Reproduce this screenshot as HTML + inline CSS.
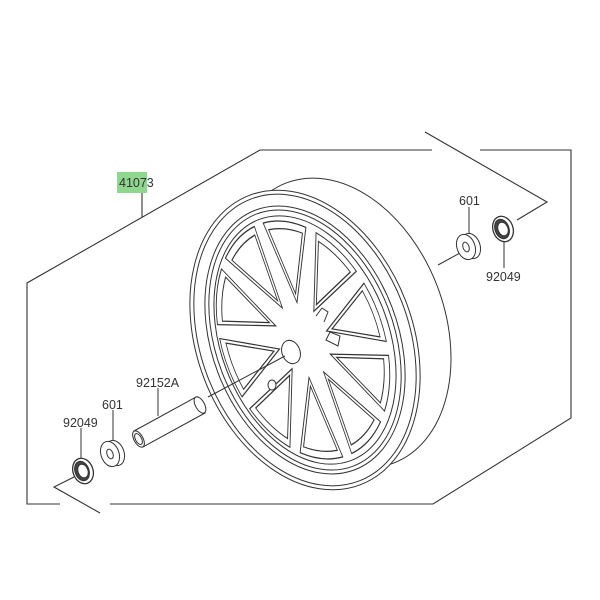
<!DOCTYPE html>
<html><head><meta charset="utf-8"><style>
html,body{margin:0;padding:0;background:#fff;}
svg{display:block;}
text{font-family:"Liberation Sans",sans-serif;font-size:12.5px;fill:#333;}
.p path{vector-effect:non-scaling-stroke;}
</style></head><body>
<svg width="600" height="600" viewBox="0 0 600 600" xmlns="http://www.w3.org/2000/svg">
<defs>
  <g id="pk">
    <path d="M0,-30 L-24,-92 A95,95 0 0 1 24,-92 Z"/>
    <path d="M0,-37 L-19,-87 A89,89 0 0 1 19,-87 Z"/>
  </g>
</defs>
<g fill="none" stroke="#333" stroke-width="1.1">
  <polyline points="432,150 260,150 27,283 27,504 60,504"/>
  <polyline points="480,150 571,150 571,418 433,504 110,504"/>
  <polyline points="425,132 547,202 517,220"/>
  <polyline points="74,477 54,487 100,513"/>
  <line x1="142" y1="193" x2="142" y2="217"/>
</g>
<rect x="117" y="172" width="30" height="21" fill="#8fd68f"/>
<text x="119" y="187">41073</text>

<g fill="#fff" stroke="#333" stroke-width="1">
  <ellipse cx="340" cy="323" rx="104" ry="150" transform="rotate(-21 340 323)"/>
  <ellipse cx="305" cy="340" rx="108" ry="155" transform="rotate(-21 305 340)"/>
  <ellipse cx="305" cy="340" rx="104" ry="151" transform="rotate(-21 305 340)"/>
  <ellipse cx="305" cy="340" rx="93" ry="139" transform="rotate(-21 305 340)"/>
  <ellipse cx="305" cy="340" rx="89" ry="135" transform="rotate(-21 305 340)"/>
  <ellipse cx="305" cy="340" rx="84" ry="129" transform="rotate(-21 305 340)"/>
</g>
<g class="p" transform="translate(303,340) rotate(-21) scale(0.84,1.3)" fill="#fff" stroke="#333" stroke-width="1">
  <use href="#pk" transform="rotate(18)"/>
  <use href="#pk" transform="rotate(54)"/>
  <use href="#pk" transform="rotate(90)"/>
  <use href="#pk" transform="rotate(126)"/>
  <use href="#pk" transform="rotate(162)"/>
  <use href="#pk" transform="rotate(198)"/>
  <use href="#pk" transform="rotate(234)"/>
  <use href="#pk" transform="rotate(270)"/>
  <use href="#pk" transform="rotate(306)"/>
  <use href="#pk" transform="rotate(342)"/>
</g>
<g fill="#fff" stroke="#333" stroke-width="1">
  <ellipse cx="291" cy="352" rx="9" ry="12" transform="rotate(-21 291 352)"/>
  <ellipse cx="272" cy="385" rx="4" ry="5"/>
  <path d="M316,316 l6,-8 l6,4 l-4,10" fill="none"/>
  <path d="M326,340 l4,-8 l10,4 l-2,10 z" fill="none"/>
</g>

<g fill="none" stroke="#333" stroke-width="1">
  <line x1="208" y1="397" x2="285" y2="356"/>
  <line x1="438" y1="265" x2="460" y2="253"/>
  <line x1="81" y1="428" x2="81" y2="462"/>
  <line x1="113" y1="410" x2="113" y2="443"/>
  <line x1="158" y1="388" x2="158" y2="416"/>
  <line x1="469" y1="207" x2="469" y2="236"/>
  <line x1="504" y1="240" x2="504" y2="268"/>
</g>
<g fill="#fff" stroke="#333" stroke-width="1">
  <polygon points="134,431 196,397 205,413 143,447"/>
  <ellipse cx="200" cy="405" rx="4.5" ry="9" transform="rotate(-29 200 405)"/>
  <ellipse cx="138.5" cy="439" rx="4.5" ry="9" transform="rotate(-29 138.5 439)"/>
  <ellipse cx="138.5" cy="439" rx="3" ry="6" transform="rotate(-29 138.5 439)"/>
  <ellipse cx="115" cy="453" rx="9" ry="13" transform="rotate(-20 115 453)"/>
  <ellipse cx="110" cy="454" rx="9" ry="13" transform="rotate(-20 110 454)"/>
  <ellipse cx="110" cy="454" rx="3" ry="5" transform="rotate(-20 110 454)"/>
  <ellipse cx="83" cy="471" rx="10" ry="13" transform="rotate(-20 83 471)" stroke-width="1.3"/>
  <ellipse cx="82" cy="471" rx="7" ry="10" transform="rotate(-20 82 471)" fill="#444"/>
  <ellipse cx="83" cy="471" rx="5" ry="7" transform="rotate(-20 83 471)"/>
  <ellipse cx="471" cy="246" rx="9" ry="13" transform="rotate(-20 471 246)"/>
  <ellipse cx="466" cy="247" rx="9" ry="13" transform="rotate(-20 466 247)"/>
  <ellipse cx="466" cy="247" rx="3" ry="5" transform="rotate(-20 466 247)"/>
  <ellipse cx="503" cy="229" rx="10" ry="13" transform="rotate(-20 503 229)" stroke-width="1.3"/>
  <ellipse cx="502" cy="229" rx="7" ry="10" transform="rotate(-20 502 229)" fill="#444"/>
  <ellipse cx="503" cy="229" rx="5" ry="7" transform="rotate(-20 503 229)"/>
</g>
<text x="63" y="427">92049</text>
<text x="102" y="409">601</text>
<text x="136" y="387">92152A</text>
<text x="459" y="205">601</text>
<text x="486" y="281">92049</text>
</svg>
</body></html>
